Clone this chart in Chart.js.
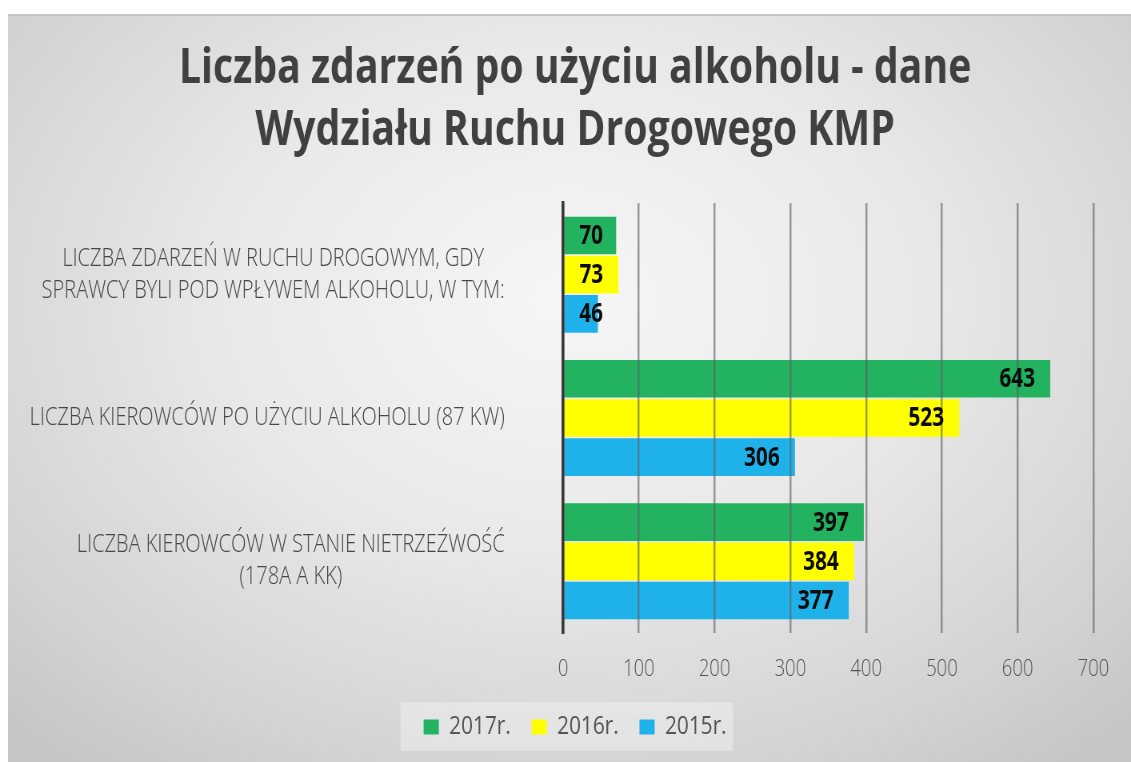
<!DOCTYPE html>
<html><head><meta charset="utf-8">
<script src="https://cdn.jsdelivr.net/npm/chart.js@4.4.0/dist/chart.umd.min.js"></script>
<style>
html,body{margin:0;padding:0;background:#fff;overflow:hidden;width:1131px;height:762px}
#panel{position:absolute;left:8px;top:14px;width:1123px;height:748px;box-sizing:border-box;border-top:2px solid #c6c6c6;
background:radial-gradient(ellipse 72% 80% at 50% 38%, #f6f6f6 0%, #e9e9e9 42%, #d3d3d3 80%, #c5c5c5 100%);}
#c{position:absolute;left:8px;top:14px}
</style></head><body>
<div id="panel"></div>
<canvas id="c" width="1404" height="748" style="width:1123px;height:748px"></canvas>
<script>
const titleLines = ['Liczba zdarzeń po użyciu alkoholu - dane', 'Wydziału Ruchu Drogowego KMP'];
const categories = [
  ['LICZBA ZDARZEŃ W RUCHU DROGOWYM, GDY', 'SPRAWCY BYLI POD WPŁYWEM ALKOHOLU, W TYM:'],
  ['LICZBA KIEROWCÓW PO UŻYCIU ALKOHOLU (87 KW)'],
  ['LICZBA KIEROWCÓW W STANIE NIETRZEŹWOŚĆ', '(178A A KK)']
];
const seriesNames = ['2017r.', '2016r.', '2015r.'];
const values2017 = [70, 643, 397];
const values2016 = [73, 523, 384];
const values2015 = [46, 306, 377];
const xTicks = [0, 100, 200, 300, 400, 500, 600, 700];
const seriesColors = ['#22b260', '#ffff00', '#1fb2ea'];

const FONT = '"Open Sans", "Noto Sans", sans-serif';

const legendBg = {
  id: 'legendBg',
  beforeDraw(chart) {
    const lg = chart.legend;
    if (!lg || !lg.legendHitBoxes || !lg.legendHitBoxes.length) return;
    const hb = lg.legendHitBoxes;
    const l = Math.min(...hb.map(h => h.left)) - 29;
    const r = Math.max(...hb.map(h => h.left + h.width)) + 8;
    const cy = hb[0].top + hb[0].height / 2;
    const ctx = chart.ctx;
    ctx.save();
    ctx.fillStyle = 'rgba(255,255,255,0.32)';
    ctx.fillRect(l, cy - 25, r - l, 49);
    ctx.restore();
  }
};

const labelsPlugin = {
  id: 'labelsPlugin',
  afterDraw(chart) {
    const ctx = chart.ctx;
    const yScale = chart.scales.y;
    const area = chart.chartArea;
    ctx.save();
    ctx.font = '300 25px ' + FONT;
    ctx.fillStyle = '#474747';
    ctx.textAlign = 'center';
    ctx.textBaseline = 'middle';
    const rightEdge = area.left - 73;
    categories.forEach((lines, i) => {
      const cy = yScale.getPixelForTick(i);
      const w = Math.max(...lines.map(t => ctx.measureText(t).width));
      const cx = rightEdge - w / 2;
      lines.forEach((t, j) => ctx.fillText(t, cx, cy + (j - (lines.length - 1) / 2) * 32));
    });
    ctx.restore();
    ctx.save();
    ctx.font = '700 26px ' + FONT;
    ctx.fillStyle = '#0a0a0a';
    ctx.textAlign = 'right';
    ctx.textBaseline = 'middle';
    chart.data.datasets.forEach((ds, di) => {
      const meta = chart.getDatasetMeta(di);
      meta.data.forEach((bar, i) => {
        const txt = String(ds.data[i]);
        const w = ctx.measureText(txt).width;
        let right = bar.x - 19;
        if (right - w < bar.base + 19) right = bar.base + 19 + w;
        ctx.fillText(txt, right, bar.y + 1);
      });
    });
    ctx.restore();
  }
};

new Chart(document.getElementById('c'), {
  type: 'bar',
  data: {
    labels: categories,
    datasets: [
      { label: seriesNames[0], data: values2017, backgroundColor: seriesColors[0] },
      { label: seriesNames[1], data: values2016, backgroundColor: seriesColors[1] },
      { label: seriesNames[2], data: values2015, backgroundColor: seriesColors[2] }
    ]
  },
  options: {
    indexAxis: 'y',
    responsive: false,
    animation: false,
    events: [],
    layout: { padding: { left: 61, right: 47, top: 0, bottom: 12 } },
    datasets: { bar: { categoryPercentage: 0.82, barPercentage: 0.96, borderWidth: 0 } },
    scales: {
      x: {
        min: 0, max: 700,
        afterBuildTicks: s => { s.ticks = xTicks.map(v => ({ value: v })); },
        afterFit: s => { s.height = 55; },
        grid: { z: 1, color: 'rgba(95,95,95,0.6)', lineWidth: 2.5, drawTicks: false },
        border: { display: false },
        ticks: { font: { family: FONT, size: 23, weight: 300 }, color: '#555555', padding: 23 }
      },
      y: {
        afterFit: s => { s.width = 633; },
        grid: { display: false },
        border: { display: true, color: '#383838', width: 3.5, z: 2 },
        ticks: { display: false }
      }
    },
    plugins: {
      title: {
        display: true,
        text: titleLines,
        color: '#404040',
        font: { family: FONT, size: 49, weight: 700, lineHeight: 1.265 },
        padding: { top: 24, bottom: 41 }
      },
      legend: {
        position: 'bottom',
        labels: {
          boxWidth: 19, boxHeight: 15, padding: 26,
          color: '#555555',
          font: { family: FONT, size: 26, weight: 400 }
        }
      },
      tooltip: { enabled: false }
    }
  },
  plugins: [legendBg, labelsPlugin]
});
</script>
</body></html>
